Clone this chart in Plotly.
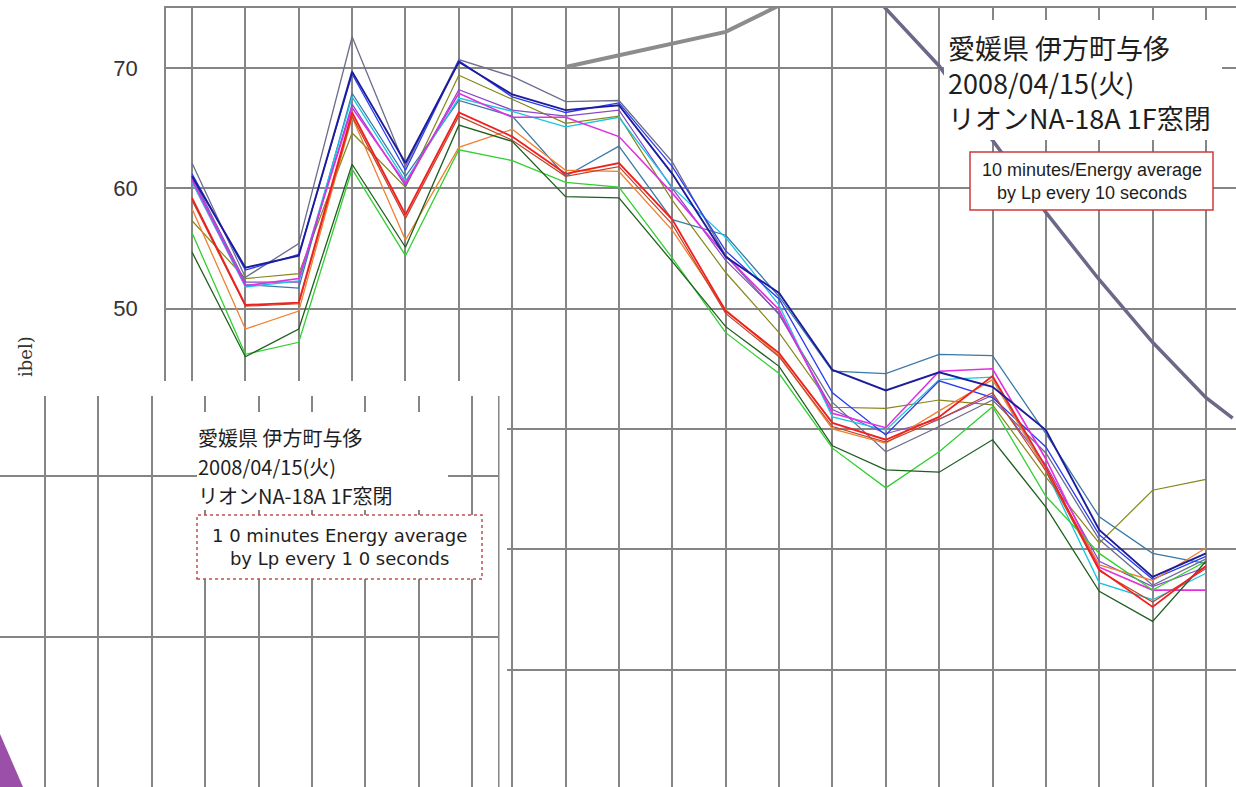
import plotly.graph_objects as go

W, H = 1236, 787

# ---------------- data ----------------
x_points = list(range(1, 21))

slate     = [62.1, 52.6, 55.4, 72.6, 61.8, 70.7, 69.3, 67.2, 67.3, 62.2, 54.4, 49.5, 42.2, 38.1, 40.2, 42.4, 38.0, 30.8, 27.0, 29.2]
navy      = [61.0, 53.4, 54.4, 69.7, 62.1, 70.5, 67.8, 66.5, 66.9, 61.2, 54.3, 51.3, 44.9, 43.2, 44.7, 43.5, 39.9, 31.6, 27.7, 29.65]
blue      = [61.2, 53.2, 54.5, 69.5, 61.5, 70.6, 67.6, 66.3, 67.1, 61.8, 54.8, 50.8, 43.0, 39.5, 44.0, 42.6, 38.5, 31.2, 27.5, 29.4]
steel     = [60.8, 52.0, 51.7, 67.9, 61.0, 67.3, 66.0, 61.0, 63.5, 57.4, 56.1, 51.0, 44.8, 44.6, 46.2, 46.1, 39.6, 32.7, 29.65, 28.8]
cyan      = [60.5, 51.8, 52.3, 67.6, 60.6, 67.5, 66.4, 65.1, 65.9, 60.1, 55.9, 50.3, 41.0, 39.9, 44.1, 44.3, 36.5, 27.2, 25.8, 28.0]
magenta   = [60.7, 51.9, 52.5, 66.7, 60.4, 67.9, 65.9, 65.9, 64.3, 59.6, 54.4, 49.9, 41.3, 40.1, 44.8, 45.0, 37.5, 28.5, 26.6, 26.6]
purple    = [61.0, 52.2, 52.2, 67.0, 60.2, 68.2, 66.5, 66.0, 66.5, 60.0, 54.0, 49.6, 41.6, 39.6, 40.8, 42.8, 37.0, 29.0, 26.9, 28.5]
red       = [59.2, 50.3, 50.5, 66.3, 57.8, 66.3, 64.3, 61.2, 62.1, 57.4, 49.8, 46.3, 40.5, 39.1, 41.0, 44.4, 36.8, 28.3, 25.2, 28.6]
brick     = [59.0, 50.2, 50.4, 66.0, 57.5, 66.0, 64.0, 61.0, 61.8, 57.0, 49.6, 46.0, 40.2, 38.9, 40.8, 43.0, 36.5, 28.2, 25.6, 28.4]
orange    = [58.3, 48.3, 49.8, 65.9, 55.7, 63.4, 64.9, 61.5, 61.4, 56.5, 49.9, 46.1, 40.0, 38.8, 41.5, 44.1, 36.5, 28.7, 27.4, 30.1]
olive     = [57.3, 52.5, 52.9, 64.6, 60.1, 69.4, 67.4, 65.4, 66.0, 59.0, 53.0, 48.0, 41.8, 41.7, 42.4, 42.0, 36.0, 30.5, 34.9, 35.8]
green     = [56.3, 46.2, 47.2, 61.6, 54.4, 63.2, 62.3, 60.5, 60.1, 54.2, 48.0, 44.6, 38.4, 35.1, 38.1, 41.85, 34.4, 29.65, 26.6, 29.0]
darkgreen = [54.7, 46.0, 48.3, 62.0, 55.1, 65.25, 63.9, 59.3, 59.2, 53.9, 48.5, 45.2, 38.6, 36.6, 36.4, 39.1, 33.5, 26.5, 24.0, 29.0]

# overlay lines (pasted from other charts)
gray_x = [8, 9, 10, 11, 12]
gray_y = [70.08, 71.08, 72.08, 73.0, 75.2]
violet_x = [13.85, 15, 16, 17, 18, 19, 20, 20.5]
violet_y = [75.65, 70.17, 64.0, 58.0, 52.4, 47.2, 42.6, 40.9]

y_tick_vals = [20, 30, 40, 50, 60, 70]
y_tick_text = ["", "", "", "50", "60", "70"]

title_lines = ["愛媛県 伊方町与侈", "2008/04/15(火)", "リオンNA-18A 1F窓閉"]
box_main = ["10 minutes/Energy average", "by Lp every 10 seconds"]
box_inset = ["1 0 minutes Energy average", "by Lp every 1 0 seconds"]
axis_title_fragment = "ibel)"

# ---------------- figure ----------------
def px(x):
    return x / W

def py(y):
    return 1 - y / H

fig = go.Figure()

series = [
    (olive, "#86861a", 1.2),
    (slate, "#6c6c8c", 1.3),
    (purple, "#8848c8", 1.2),
    (steel, "#3a78a8", 1.3),
    (cyan, "#18c4e0", 1.3),
    (blue, "#2a3cf0", 1.3),
    (magenta, "#e030e0", 1.6),
    (orange, "#f08030", 1.3),
    (brick, "#c04428", 1.2),
    (green, "#30d030", 1.3),
    (darkgreen, "#1e5e1e", 1.3),
    (red, "#f02020", 1.8),
    (navy, "#1c1c9c", 1.9),
]
for vals, col, w in series:
    fig.add_trace(go.Scatter(x=x_points, y=vals, mode="lines",
                             line=dict(color=col, width=w), showlegend=False,
                             xaxis="x", yaxis="y"))

fig.add_trace(go.Scatter(x=gray_x, y=gray_y, mode="lines",
                         line=dict(color="#8c8c8c", width=4), showlegend=False,
                         xaxis="x", yaxis="y"))
fig.add_trace(go.Scatter(x=violet_x, y=violet_y, mode="lines",
                         line=dict(color="#6c6888", width=3.5), showlegend=False,
                         xaxis="x", yaxis="y"))

# invisible trace for inset subplot
fig.add_trace(go.Scatter(x=[0], y=[0], mode="markers", marker=dict(opacity=0),
                         showlegend=False, hoverinfo="skip", xaxis="x2", yaxis="y2"))

u = (1206 - 192) / 19.0
vpp = 12.03
grid = "#858585"

fig.update_layout(
    width=W, height=H,
    margin=dict(l=0, r=0, t=0, b=0),
    paper_bgcolor="white", plot_bgcolor="white",
    xaxis=dict(domain=[px(166), 1], range=[1 - (192 - 166) / u, 20 + (1236 - 1206) / u],
               tickvals=x_points, showticklabels=False, ticks="",
               showgrid=True, gridcolor=grid, gridwidth=1.5,
               showline=True, linecolor=grid, linewidth=1.5, side="top",
               zeroline=False, automargin=False),
    yaxis=dict(domain=[0, py(8)], range=[70 - (787 - 68) / vpp, 70 + (68 - 8) / vpp],
               tickvals=y_tick_vals, ticktext=y_tick_text, ticks="",
               ticklabelstandoff=22,
               tickfont=dict(family="Liberation Sans, Arial", size=22, color="#333333"),
               showgrid=True, gridcolor=grid, gridwidth=1.5,
               showline=True, linecolor=grid, linewidth=1.5,
               zeroline=False, automargin=False),
    xaxis2=dict(domain=[0, px(498)], range=[-45 / 53.375, (498 - 45) / 53.375],
                tickvals=list(range(0, 9)), showticklabels=False, ticks="",
                showgrid=True, gridcolor=grid, gridwidth=1.5,
                showline=True, linecolor=grid, linewidth=1.5, side="top",
                zeroline=False, anchor="y2", automargin=False),
    yaxis2=dict(domain=[0, py(396)], range=[(637 - 787) / 161, (637 - 396) / 161],
                tickvals=[0, 1], showticklabels=False, ticks="",
                showgrid=True, gridcolor=grid, gridwidth=1.5,
                showline=True, linecolor=grid, linewidth=1.5, side="right",
                zeroline=False, anchor="x2", automargin=False),
)

def rect(x0, y0, x1, y1, fill="white", line=None, dash=None):
    d = dict(type="rect", xref="paper", yref="paper",
             x0=px(x0), x1=px(x1), y0=py(y1), y1=py(y0),
             fillcolor=fill, layer="above")
    if line is None:
        d["line"] = dict(width=0)
    else:
        d["line"] = dict(color=line, width=1.5, dash=dash or "solid")
    return d

shapes = [
    # white strips around the inset
    rect(0, 381, 507, 396),
    rect(499.5, 396, 507, 787),
    # main text background
    rect(944, 20, 1222, 140),
    rect(970, 152, 1213, 210, line="#d23a3a"),
    # inset text background
    rect(197, 412, 448, 510),
    rect(197, 515, 482, 579, line="#c05050", dash="dot"),
    # purple wedge bottom-left
    dict(type="path", xref="paper", yref="paper",
         path=f"M 0 {py(734)} L {px(23)} 0 L 0 0 Z",
         fillcolor="#9b4fa8", line=dict(width=0), layer="above"),
]
fig.update_layout(shapes=shapes)

anns = []
main_font = "Noto Sans CJK JP"
anns.append(dict(text="<br>".join(title_lines), x=px(946), y=py(26), xref="paper", yref="paper",
                 xanchor="left", yanchor="top", align="left", showarrow=False,
                 font=dict(family=main_font, size=27, color="#1e1e1e")))
for t, yy in zip(title_lines, [437, 466, 495]):
    anns.append(dict(text=t, x=px(196), y=py(yy), xref="paper", yref="paper",
                     xanchor="left", yanchor="middle", showarrow=False,
                     font=dict(family=main_font, size=20, color="#1e1e1e")))
anns.append(dict(text="<br>".join(box_main), x=px(1091.5), y=py(181), xref="paper", yref="paper",
                 xanchor="center", yanchor="middle", align="center", showarrow=False,
                 font=dict(family="Liberation Sans, Arial", size=18, color="#1e1e1e")))
anns.append(dict(text="<br>".join(box_inset), x=px(339), y=py(547), xref="paper", yref="paper",
                 xanchor="center", yanchor="middle", align="center", showarrow=False,
                 font=dict(family="DejaVu Sans", size=18, color="#1e1e1e")))
anns.append(dict(text=axis_title_fragment, x=px(25), y=py(357), xref="paper", yref="paper",
                 xanchor="center", yanchor="middle", showarrow=False, textangle=-90,
                 font=dict(family="DejaVu Serif", size=18, color="#333333")))
fig.update_layout(annotations=anns)

fig.write_html("out.html", config={"displayModeBar": False},
               post_script="document.body.style.margin='0px';")
